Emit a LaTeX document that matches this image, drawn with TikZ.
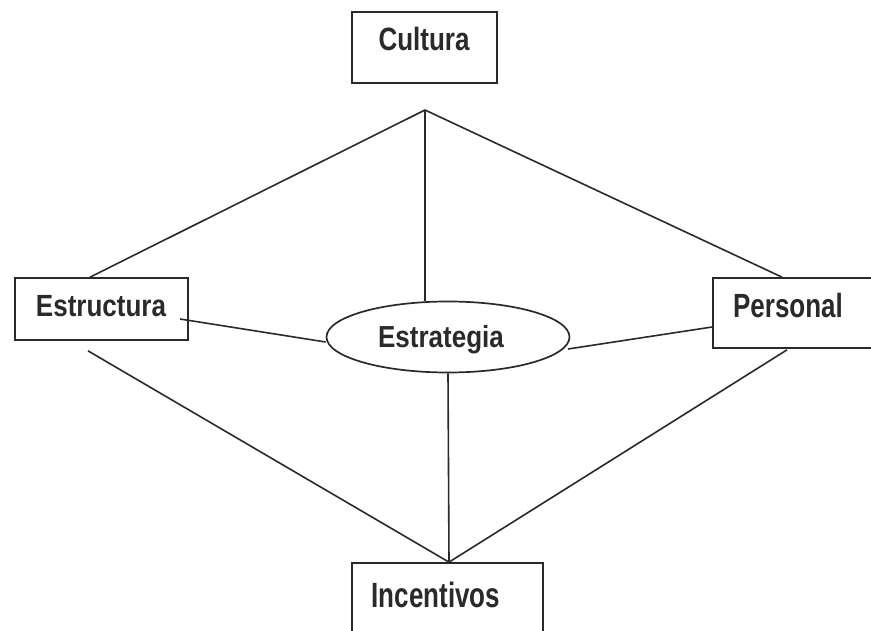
\documentclass[tikz,border=0pt]{standalone}
\usepackage{fontspec}
\setmainfont{Liberation Sans}
\usetikzlibrary{shapes.geometric}
\definecolor{ink}{HTML}{2A2A2A}
\newcommand\bt[4]{\hspace*{#1pt}\raisebox{#2pt}[0pt][0pt]{\scalebox{1}[#3]{\fontsize{26}{30}\selectfont\bfseries #4}}}
\begin{document}
\begin{tikzpicture}[x=1pt,y=-1pt,
  link/.style={draw=ink, line width=1.6pt},
  bx/.style 2 args={draw=ink, rectangle, inner sep=0pt, line width=1.7pt, text=ink,
     minimum width=#1pt, minimum height=#2pt},
  oval/.style 2 args={draw=ink, ellipse, inner sep=0pt, line width=1.7pt, text=ink,
     minimum width=#1pt, minimum height=#2pt}]
\useasboundingbox (0,0) rectangle (871,631);
\clip (0,0) rectangle (871,631);
\fill[white] (0,0) rectangle (871,631);

\node[bx={145}{71}] (cul) at (424.5,47.5) {\bt{-1}{-3.5}{1.24}{Cultura}};
\node[bx={173}{62}] (est) at (101.5,309) {\bt{-1}{-8}{1.18}{Estructura}};
\node[bx={162}{70}] (per) at (794,313) {\bt{-12}{-5}{1.29}{Personal}};
\node[oval={243}{71}] (str) at (448,337) {\bt{-14}{-11}{1.17}{Estrategia}};
\node[bx={191}{70}] (inc) at (447.5,598) {\bt{-23}{-9}{1.35}{Incentivos}};

\coordinate (apex) at (425,110);
\coordinate (bot) at ([xshift=1.5pt]inc.north);

\draw[link] (apex) -- ([xshift=-11.5pt]est.north);
\draw[link] (apex) -- ([xshift=-12pt]per.north);
\draw[link] (apex) -- ([xshift=-23pt]str.north);

\draw[link] ([shift={(78.5pt,-10pt)}]est.center) -- ([yshift=-5pt]str.west);
\draw[link] ([shift={(120pt,-12pt)}]str.center) -- ([yshift=-14pt]per.west);

\draw[link] ([shift={(-13.5pt,-10pt)}]est.south) -- (bot);
\draw[link] ([shift={(-7pt,-1pt)}]per.south) -- (bot);
\draw[link] (str.south) -- (bot);
\end{tikzpicture}
\end{document}
